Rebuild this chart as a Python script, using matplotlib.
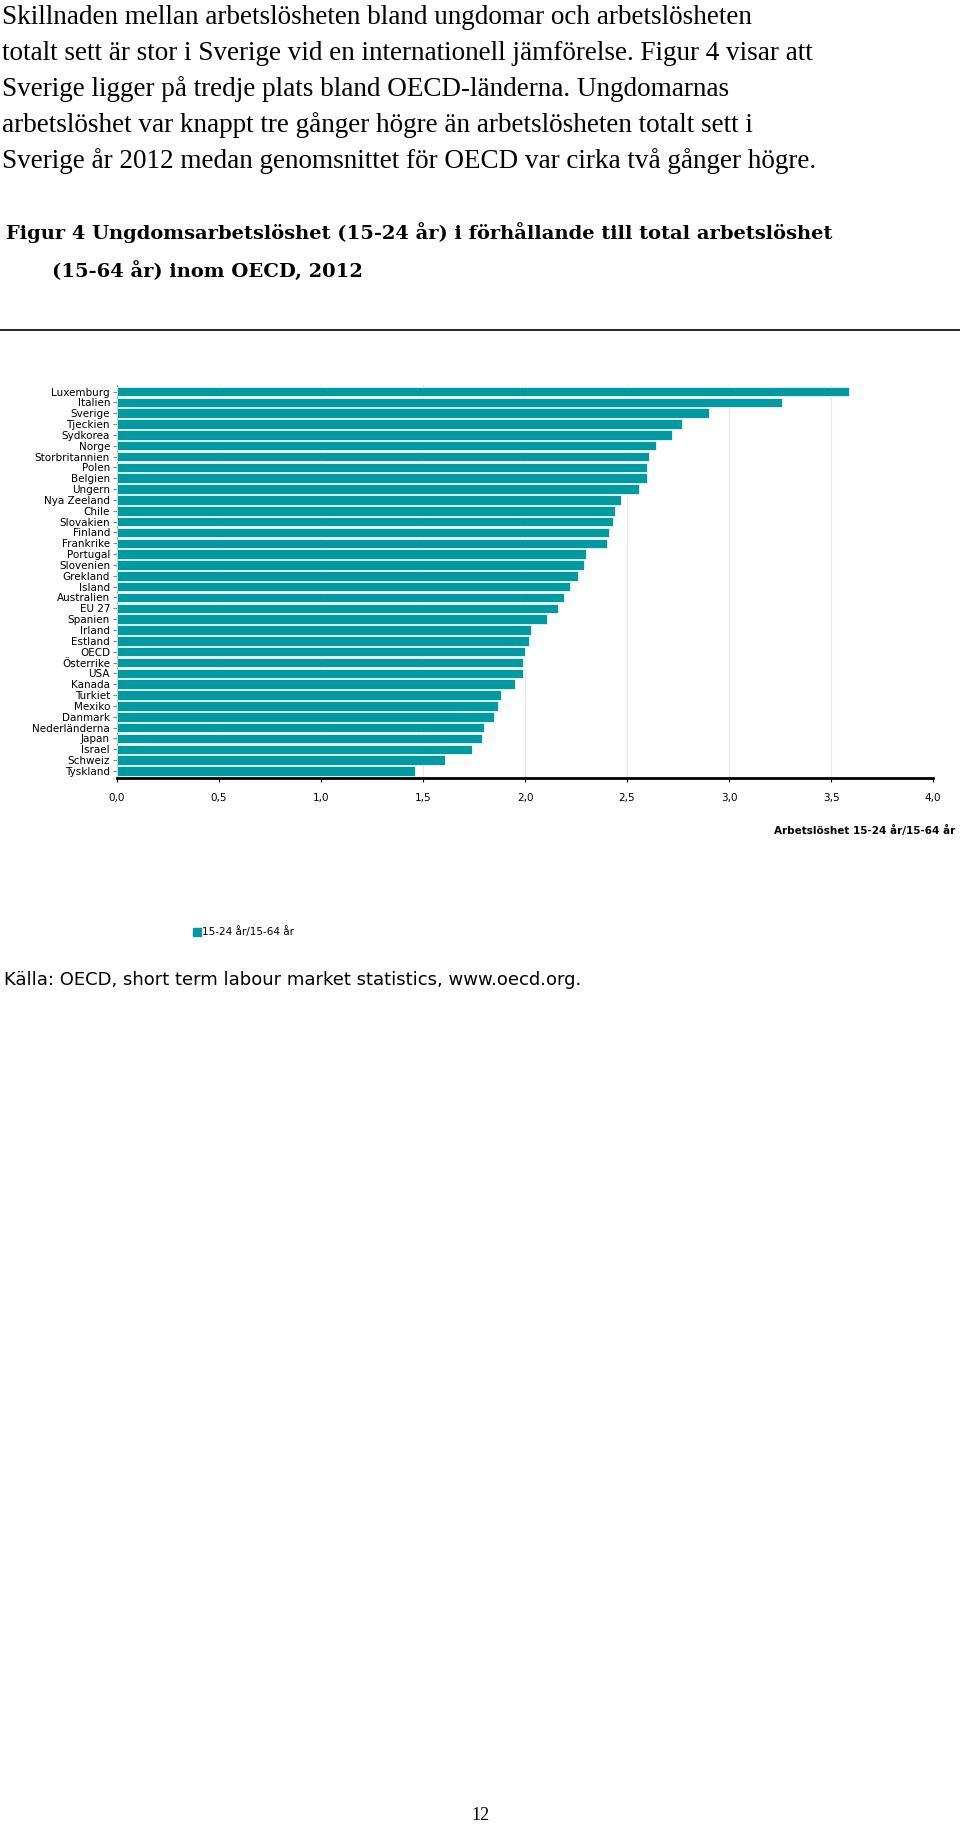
import matplotlib.pyplot as plt

countries = [
    "Luxemburg", "Italien", "Sverige", "Tjeckien", "Sydkorea", "Norge",
    "Storbritannien", "Polen", "Belgien", "Ungern", "Nya Zeeland", "Chile",
    "Slovakien", "Finland", "Frankrike", "Portugal", "Slovenien", "Grekland",
    "Island", "Australien", "EU 27", "Spanien", "Irland", "Estland", "OECD",
    "Österrike", "USA", "Kanada", "Turkiet", "Mexiko", "Danmark",
    "Nederländerna", "Japan", "Israel", "Schweiz", "Tyskland",
]
ratio = [
    3.59, 3.26, 2.90, 2.77, 2.72, 2.64, 2.61, 2.60, 2.60, 2.56, 2.47, 2.44,
    2.43, 2.41, 2.40, 2.30, 2.29, 2.26, 2.22, 2.19, 2.16, 2.11, 2.03, 2.02,
    2.00, 1.99, 1.99, 1.95, 1.88, 1.87, 1.85, 1.80, 1.79, 1.74, 1.61, 1.46,
]
xticks = [0, 0.5, 1.0, 1.5, 2.0, 2.5, 3.0, 3.5, 4.0]

body = [
    "Skillnaden mellan arbetslösheten bland ungdomar och arbetslösheten",
    "totalt sett är stor i Sverige vid en internationell jämförelse. Figur 4 visar att",
    "Sverige ligger på tredje plats bland OECD-länderna. Ungdomarnas",
    "arbetslöshet var knappt tre gånger högre än arbetslösheten totalt sett i",
    "Sverige år 2012 medan genomsnittet för OECD var cirka två gånger högre.",
]
TEAL = "#009aa0"
W, H = 960, 1825

fig = plt.figure(figsize=(9.6, 18.25), dpi=100)

def fy(px):
    return 1 - px / H

for i, line in enumerate(body):
    fig.text(2 / W, fy(17 + i * 36), line, family="Liberation Serif",
             fontsize=19.5, va="center", ha="left")
fig.text(6 / W, fy(233), "Figur 4 Ungdomsarbetslöshet (15-24 år) i förhållande till total arbetslöshet",
         family="DejaVu Serif", fontweight="bold", fontsize=14, va="center")
fig.text(52 / W, fy(271), "(15-64 år) inom OECD, 2012",
         family="DejaVu Serif", fontweight="bold", fontsize=14, va="center")
fig.add_artist(plt.Line2D([0, 1], [fy(330), fy(330)], color="black", lw=1.2))

ax = fig.add_axes([117 / W, fy(778), (933 - 117) / W, (778 - 385) / H])
y = list(range(len(countries)))
ax.barh(y, ratio, height=0.88, color=TEAL, edgecolor="white", linewidth=0.5, zorder=3)
ax.set_ylim(len(countries) - 0.5 + 0.15, -0.6)
ax.set_xlim(0, 4.0)
ax.set_yticks(y)
ax.set_yticklabels(countries, fontsize=7.5)
ax.set_xticks(xticks)
ax.set_xticklabels([f"{v:.1f}".replace(".", ",") for v in xticks], fontsize=7.5)
ax.grid(axis="x", color="#e8e8e8", lw=0.8, zorder=0)
for s in ["top", "right"]:
    ax.spines[s].set_visible(False)
ax.spines["bottom"].set_linewidth(2)
ax.spines["left"].set_color("#888888")
ax.tick_params(axis="y", length=3, color="#888888", pad=2)
ax.tick_params(axis="x", length=3, pad=8)

fig.text(955 / W, fy(830), "Arbetslöshet 15-24 år/15-64 år", fontsize=7.5,
         fontweight="bold", ha="right", va="center")
fig.patches.append(plt.Rectangle((193 / W, fy(936)), 8 / W, 8 / H,
                                 transform=fig.transFigure, color=TEAL))
fig.text(202 / W, fy(932), "15-24 år/15-64 år", fontsize=7.5, va="center")
fig.text(4 / W, fy(980), "Källa: OECD, short term labour market statistics, www.oecd.org.",
         family="DejaVu Sans", fontsize=13, va="center")
fig.text(480 / W, fy(1816), "12", family="Liberation Serif", fontsize=13,
         ha="center", va="center")

fig.savefig("out.png", dpi=100)
